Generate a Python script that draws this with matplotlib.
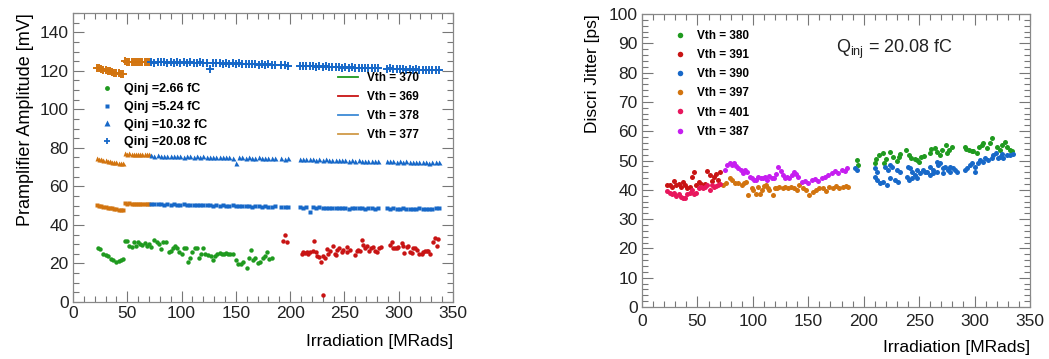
import matplotlib
matplotlib.use("Agg")
import matplotlib.pyplot as plt
from matplotlib.lines import Line2D
from matplotlib.ticker import MultipleLocator
import numpy as np

plt.rcParams['font.family'] = ['Liberation Sans', 'DejaVu Sans']

GREEN = '#1f9a1f'
RED = '#c81414'
BLUE = '#1768c8'
ORANGE = '#d2740f'
CRIMSON = '#e8175d'
MAGENTA = '#c61ef0'

# ---------------- left panel: preamplifier amplitude ----------------
# Qinj = 2.66 fC, Vth = 370 (green) and Vth = 369 (red)
dose_370 = [23, 25, 28, 30, 32, 35, 37, 40, 42, 44, 46, 48, 50, 52, 54, 56, 58, 60, 62, 64,
            66, 68, 70, 72, 75, 77, 79, 81, 83, 86, 88, 90, 92, 94, 96, 98, 100, 102, 104, 106,
            108, 110, 112, 114, 116, 118, 120, 122, 124, 127, 129, 131, 133, 135, 137, 139, 141,
            143, 145, 147, 150, 152, 155, 157, 160, 162, 164, 166, 168, 170, 172, 175, 177, 179,
            181, 183]
amp_370 = [28, 27.5, 25, 24.5, 24, 22.5, 22, 21, 21.5, 22, 22.5, 31.5, 31.5, 29, 28.5, 31, 29,
           31, 30, 29.5, 30.5, 29, 30, 28.5, 32, 31, 30, 27.5, 31, 31, 26, 26.5, 28, 29, 28, 26,
           25, 28, 28, 21, 23, 26, 28, 28, 23, 25, 28, 25, 24.5, 24, 22, 24, 25, 25.5, 25, 25,
           25.5, 25, 25, 25, 22, 19.5, 19.5, 21, 17.5, 23, 27, 22, 23, 20, 21, 23, 24, 26, 22.5,
           23]
dose_369 = [193, 195, 197, 210.6, 212.1, 213.7, 215.2, 216.7, 218.3, 220.7, 221.9, 223.8, 225.0,
            226.8, 228.4, 229.9, 230.5, 232.1, 233.6, 235.1, 236.7, 239.1, 241.3, 242.2, 243.4,
            245.3, 247.4, 249.0, 252.0, 252.6, 255.1, 259.7, 261.2, 262.8, 264.3, 265.8, 267.4,
            268.9, 270.4, 272.9, 274.1, 276.6, 278.1, 279.7, 282.1, 283.3, 291.9, 293.5, 294.4,
            296.5, 298.1, 299.6, 302.7, 304.2, 304.8, 307.3, 308.8, 310.4, 311.9, 313.4, 315.0,
            316.5, 319.0, 321.1, 322.6, 324.2, 325.7, 327.2, 328.8, 331.2, 333.4, 334.9, 336.4]
amp_369 = [31.6, 34.6, 31.0, 24.7, 26.1, 25.2, 25.7, 24.7, 26.1, 26.4, 31.6, 25.7, 24.0, 23.5,
           20.9, 24.0, 3.6, 23.0, 27.5, 24.7, 26.4, 29.2, 24.7, 24.4, 27.0, 27.8, 26.1, 27.0,
           28.7, 25.7, 27.1, 24.4, 26.4, 27.0, 26.4, 32.1, 29.5, 27.8, 29.0, 26.4, 27.8, 28.7,
           26.4, 26.1, 28.2, 28.7, 29.5, 30.9, 28.2, 27.8, 27.8, 28.7, 30.4, 29.2, 25.2, 28.7,
           29.2, 26.1, 25.2, 28.2, 27.8, 27.0, 24.7, 24.7, 26.1, 26.4, 26.4, 26.4, 24.7, 31.3,
           33.0, 29.2, 32.6]

# Vth = 377 (orange) and Vth = 378 (blue) doses, shared by the three larger charges
dose_377 = [22, 24, 26, 28, 30, 32, 34, 36, 38, 40, 42, 44, 46,
            48, 50, 52, 54, 56, 58, 60, 62, 64, 66, 68, 70]
dose_378 = [72, 75, 78, 81, 84, 87, 90, 93, 96, 99, 102, 105, 108, 111, 114, 117, 120, 123, 126,
            129, 132, 135, 138, 141, 144, 147, 150, 153, 156, 159, 162, 165, 168, 171, 174, 177,
            180, 183, 186,
            192, 195, 198,
            209, 212, 215, 218, 221, 224, 227, 230, 233, 236, 239, 242, 245, 248, 251, 254, 257,
            260, 263, 266, 269, 272, 275, 278, 281,
            289, 292, 295, 298, 301, 304, 307, 310, 313, 316, 319, 322, 325, 328, 331, 334, 337]

# Qinj = 5.24 fC
amp524_377 = [50.2, 50.0, 49.7, 49.5, 49.3, 49.0, 48.8, 48.6, 48.4, 48.2, 48.0, 47.8, 47.6,
              51.3, 51.0, 51.2, 50.9, 51.1, 50.8, 51.0, 50.9, 51.1, 50.8, 51.0, 51.1]
amp524_378 = [51.0, 50.7, 51.1, 50.8, 50.6, 50.9, 50.5, 50.8, 50.6, 50.4, 50.7, 50.3, 50.6, 50.4,
              50.2, 50.5, 50.1, 50.4, 50.2, 50.0, 50.3, 49.9, 50.2, 50.0, 49.8, 50.1, 49.7, 50.0,
              49.8, 49.6, 49.9, 49.5, 49.8, 49.6, 49.4, 49.7, 49.5, 49.3, 49.6,
              49.3, 49.5, 49.2,
              49.2, 49.0, 49.3, 46.5, 49.1, 48.9, 49.2, 48.8, 49.0, 48.7, 49.0, 48.8, 48.6, 48.9,
              48.7, 48.5, 48.8, 48.6, 48.9, 48.7, 48.5, 48.8, 48.6, 48.4, 48.7,
              48.6, 48.4, 48.7, 48.5, 48.3, 48.6, 48.4, 48.2, 48.5, 48.3, 48.6, 48.4, 48.2, 48.5,
              48.3, 48.6, 48.8]
# Qinj = 10.32 fC
amp1032_377 = [74.6, 74.3, 74.1, 73.9, 73.6, 73.4, 73.1, 72.9, 72.7, 72.5, 72.3, 72.1, 71.9,
               77.2, 76.9, 77.1, 76.8, 77.0, 76.7, 76.9, 76.8, 77.0, 76.7, 76.9, 76.8]
amp1032_378 = [76.1, 75.9, 76.2, 75.8, 76.0, 75.7, 76.0, 75.8, 75.6, 75.9, 75.5, 75.8, 75.6, 75.4,
               75.7, 75.3, 75.6, 75.4, 75.2, 75.5, 75.1, 75.4, 75.2, 75.0, 75.3, 74.9, 72.2, 75.0,
               75.2, 74.8, 75.1, 74.9, 74.7, 75.0, 74.8, 74.6, 74.9, 74.7, 74.5,
               74.6, 74.4, 74.7,
               74.3, 74.1, 74.4, 74.0, 74.2, 73.9, 74.1, 73.8, 74.0, 73.7, 73.9, 73.6, 73.8, 73.5,
               73.7, 73.4, 73.6, 73.3, 73.5, 73.2, 73.4, 73.1, 73.3, 73.0, 73.2,
               73.2, 73.0, 73.3, 72.9, 73.1, 72.8, 73.0, 72.7, 72.9, 72.6, 72.8, 72.5, 72.7, 72.4,
               72.6, 72.5, 72.7]
# Qinj = 20.08 fC
amp2008_377 = [121.6, 121.3, 121.0, 120.6, 120.3, 120.0, 119.7, 119.4, 119.1, 118.9, 118.6,
               118.4, 118.1,
               124.9, 124.6, 124.8, 124.5, 124.7, 124.4, 124.6, 124.5, 124.7, 124.4, 124.6, 124.5]
amp2008_378 = [124.6, 124.3, 124.7, 124.4, 124.5, 124.2, 124.6, 124.3, 124.5, 124.1, 124.4, 124.2,
               124.5, 124.3, 124.0, 124.4, 124.1, 123.9, 121.0, 124.0, 123.8, 124.1, 123.7, 123.9,
               123.6, 123.9, 123.5, 123.8, 123.4, 123.7, 123.5, 123.3, 123.6, 123.2, 123.5, 123.1,
               123.3, 123.0, 123.2,
               122.8, 123.0, 122.7,
               122.6, 122.4, 122.7, 122.3, 122.5, 122.1, 122.4, 122.0, 122.3, 121.9, 122.1, 121.8,
               122.0, 121.7, 121.9, 121.6, 121.8, 121.5, 121.7, 121.4, 121.6, 121.3, 121.5, 121.2,
               121.4,
               121.0, 121.2, 120.8, 121.1, 120.7, 120.9, 120.6, 120.8, 120.5, 120.7, 120.4, 120.6,
               120.3, 120.5, 120.2, 120.4, 120.3]

qinj_labels = ['Qinj =2.66 fC', 'Qinj =5.24 fC', 'Qinj =10.32 fC', 'Qinj =20.08 fC']
vth_left_labels = ['Vth = 370', 'Vth = 369', 'Vth = 378', 'Vth = 377']

# ---------------- right panel: discriminator jitter (Qinj = 20.08 fC) ----------------
dose_391 = [23, 25, 27, 29, 31, 33, 35, 37, 39, 41, 43, 45, 47, 49, 51, 53, 55, 57, 59, 61, 63,
            65, 67, 69, 70]
jit_391 = [41.8, 41.5, 41, 43, 41.5, 42, 41, 42.5, 41.5, 40.5, 41, 44.5, 46, 41.5, 42.5, 42, 41,
           42, 46.5, 45, 43, 44.5, 45.5, 43.5, 46]
dose_401 = [23, 25, 27, 29, 31, 33, 35, 37, 39, 41, 43, 45, 47, 49, 51, 53, 55, 57, 59, 61, 63,
            65, 67, 69, 70]
jit_401 = [39.7, 39, 38.5, 38.8, 37.8, 38.5, 37.6, 37.2, 37.2, 38.5, 39, 40, 38.5, 39, 40.5, 40.8,
           40.5, 41, 41.5, 40, 41.5, 40.8, 41.2, 41.7, 42]
dose_397 = [73, 76, 79, 81, 84, 87, 90, 92, 94, 96, 99, 100, 103, 105, 106, 108, 110, 112, 114,
            115, 118, 120, 122, 124, 127, 129, 132, 134, 137, 140, 142, 145, 148, 151, 154, 157,
            160, 163, 166, 169, 172, 175, 178, 181, 184, 186]
jit_397 = [41.6, 42.2, 44.2, 43.3, 42.4, 42.2, 41.6, 42.2, 42.8, 38.2, 40.5, 39.9, 38.6, 41.0,
           38.6, 39.9, 41.3, 41.6, 40.5, 39.9, 38.2, 40.5, 40.5, 41.0, 40.5, 41.0, 40.5, 41.0, 40.5,
           39.9, 41.6, 40.5, 39.9, 38.2, 39.3, 39.9, 40.5, 40.5, 39.7, 41.0, 40.5, 41.3, 40.5,
           40.8, 41.3, 41.0]
dose_387 = [75, 77, 79, 81, 83, 85, 87, 89, 91, 93, 95, 97, 99, 101, 103, 105, 107, 109, 111, 113,
            115, 117, 119, 121, 123, 125, 127, 129, 131, 133, 135, 137, 139, 141, 144, 147, 150,
            153, 156, 159, 162, 165, 168, 171, 174, 177, 180, 183, 185]
jit_387 = [46.8, 48.3, 49.3, 48.5, 49, 48.2, 47.5, 46.8, 45.8, 46.8, 46, 44.5, 43.9, 43.5, 43.2,
           44.3, 43.9, 44, 44.5, 43.5, 44.8, 43.9, 44.1, 45.5, 47.8, 46.5, 45, 44, 44.5, 43.9, 45,
           46, 45.5, 44.5, 42.5, 43, 42.2, 43.5, 43.7, 43, 44, 44.5, 45.2, 45.8, 46.3, 45.8, 46.8,
           46.5, 47.3]
dose_380 = [194, 195, 210, 211, 214, 217, 218, 220, 224, 226, 230, 232, 233, 238, 241, 243, 246,
            248, 250, 252, 254, 260, 261, 264, 266, 269, 271, 274, 275, 277, 280, 291, 292, 295,
            298, 299, 302, 304, 307, 308, 311, 314, 316, 320, 323, 325, 327, 329, 332, 334]
jit_380 = [50.2, 48.5, 49.3, 50.5, 52, 52.6, 49.2, 50.4, 53, 51.2, 50, 51.2, 52.2, 53.6, 51.9,
           50.8, 50.4, 50.2, 49.6, 51.1, 51.4, 52.5, 53.9, 54.3, 52.8, 52, 53.6, 55.4, 52.5, 53.6,
           54.7, 54.5, 53.9, 53.6, 53.1, 53.1, 52.5, 54.7, 55.4, 55.9, 54.2, 55.9, 57.6, 54.7,
           53.6, 55.4, 56.2, 54.7, 53.6, 53.4]
dose_390 = [192.1, 193.6, 210.2, 210.2, 211.7, 212.3, 214.7, 217.7, 219.2, 220.7, 222.2, 223.7,
            223.7, 225.2, 228.2, 229.7, 231.2, 232.7, 238.7, 240.2, 241.1, 241.8, 243.2, 243.3,
            246.2, 247.8, 247.8, 250.8, 253.8, 255.3, 256.8, 259.8, 259.8, 262.8, 262.8, 265.8,
            265.8, 267.3, 268.8, 271.8, 271.8, 273.3, 276.3, 277.8, 277.8, 280.9, 282.4, 283.8,
            291.4, 292.9, 295.9, 297.4, 300.4, 300.4, 303.4, 304.9, 307.3, 309.4, 312.4, 315.4,
            316.9, 319.3, 321.4, 322.9, 324.4, 325.9, 328.9, 331.9, 334.3]
jit_390 = [47.3, 46.8, 47.3, 44.5, 46.2, 43.3, 42.2, 42.8, 47.9, 41.6, 46.8, 48.5, 43.9, 47.9,
           43.3, 46.8, 42.8, 46.2, 44.5, 47.9, 43.3, 47.3, 43.9, 46.2, 45.0, 46.8, 43.9, 45.6,
           46.8, 46.2, 46.2, 47.9, 45.0, 46.8, 45.6, 49.6, 46.2, 48.5, 49.1, 47.3, 45.6, 47.9,
           46.8, 47.9, 46.2, 47.3, 46.8, 46.2, 46.8, 47.3, 48.5, 49.1, 47.9, 46.2, 49.1, 50.2,
           49.6, 50.7, 50.2, 50.7, 51.9, 52.4, 50.7, 51.3, 52.2, 50.7, 51.9, 51.9, 52.2]

jitter_series = [
    ('Vth = 380', GREEN, dose_380, jit_380),
    ('Vth = 391', RED, dose_391, jit_391),
    ('Vth = 390', BLUE, dose_390, jit_390),
    ('Vth = 397', ORANGE, dose_397, jit_397),
    ('Vth = 401', CRIMSON, dose_401, jit_401),
    ('Vth = 387', MAGENTA, dose_387, jit_387),
]


def root_style(ax, xmajor, xminor, ymajor, yminor):
    ax.xaxis.set_major_locator(MultipleLocator(xmajor))
    ax.xaxis.set_minor_locator(MultipleLocator(xminor))
    ax.yaxis.set_major_locator(MultipleLocator(ymajor))
    ax.yaxis.set_minor_locator(MultipleLocator(yminor))
    ax.tick_params(which='both', direction='in', top=True, right=True, color='#777777',
                   labelsize=12.5, labelcolor='#222222', width=0.8)
    ax.tick_params(which='major', length=8, pad=3)
    ax.tick_params(which='minor', length=4)
    for s in ax.spines.values():
        s.set_color('#888888')
        s.set_linewidth(0.9)


fig = plt.figure(figsize=(10.49, 3.59), dpi=100)
ax1 = fig.add_axes([0.0696, 0.1588, 0.3622, 0.8050])
ax2 = fig.add_axes([0.6120, 0.1448, 0.3699, 0.8162])

# left panel
ms = 3.2
ax1.plot(dose_370, amp_370, 'o', color=GREEN, ms=ms, mec='none')
ax1.plot(dose_369, amp_369, 'o', color=RED, ms=ms, mec='none')
ax1.plot(dose_377, amp524_377, 's', color=ORANGE, ms=3.0, mec='none')
ax1.plot(dose_378, amp524_378, 's', color=BLUE, ms=3.0, mec='none')
ax1.plot(dose_377, amp1032_377, '^', color=ORANGE, ms=3.6, mec='none')
ax1.plot(dose_378, amp1032_378, '^', color=BLUE, ms=3.6, mec='none')
ax1.plot(dose_377, amp2008_377, '+', color=ORANGE, ms=5.2, mew=1.4)
ax1.plot(dose_378, amp2008_378, '+', color=BLUE, ms=5.2, mew=1.4)

ax1.set_xlim(0, 350)
ax1.set_ylim(0, 150)
root_style(ax1, 50, 10, 20, 5)
ax1.set_xlabel('Irradiation [MRads]', fontsize=12.5, loc='right', labelpad=9)
ax1.set_ylabel('Pramplifier Amplitude [mV]', fontsize=13, loc='top', labelpad=4)

h_q = [Line2D([], [], ls='none', marker='o', color=GREEN, ms=3.5, mec='none'),
       Line2D([], [], ls='none', marker='s', color=BLUE, ms=3.2, mec='none'),
       Line2D([], [], ls='none', marker='^', color=BLUE, ms=4, mec='none'),
       Line2D([], [], ls='none', marker='+', color=BLUE, ms=5, mew=1.3)]
leg1 = ax1.legend(h_q, qinj_labels, loc='upper left', bbox_to_anchor=(0.07, 0.757),
                  frameon=False, prop={'weight': 'bold', 'size': 9}, handlelength=1.2,
                  handletextpad=0.75, labelspacing=0.46, borderpad=0, borderaxespad=0)
ax1.add_artist(leg1)
h_v = [Line2D([], [], color=c, lw=1.3) for c in [GREEN, RED, '#3d8ad6', '#d09a48']]
ax1.legend(h_v, vth_left_labels, loc='upper left', bbox_to_anchor=(0.697, 0.795),
           frameon=False, prop={'weight': 'bold', 'size': 8.5}, handlelength=1.7,
           handletextpad=0.76, labelspacing=0.59, borderpad=0, borderaxespad=0)

# right panel
for label, color, x, y in jitter_series:
    ax2.plot(x, y, 'o', color=color, ms=3.6, mec='none', label=label)
ax2.set_xlim(0, 350)
ax2.set_ylim(0, 100)
root_style(ax2, 50, 10, 10, 2)
ax2.tick_params(axis='x', which='major', pad=5)
ax2.set_xlabel('Irradiation [MRads]', fontsize=12.5, loc='right', labelpad=8)
ax2.set_ylabel('Discri Jitter [ps]', fontsize=12.5, loc='top', labelpad=6)
ax2.legend(loc='upper left', bbox_to_anchor=(0.082, 0.946), frameon=False,
           prop={'weight': 'bold', 'size': 8.5}, handlelength=1.0, handletextpad=0.95,
           labelspacing=0.61, borderpad=0, borderaxespad=0, markerscale=1.1)
ax2.text(0.5, 0.88, r'Q$_{\mathregular{inj}}$ = 20.08 fC', transform=ax2.transAxes,
         fontsize=13, va='center', ha='left', color='#222222')

fig.savefig('out.png', dpi=100)
